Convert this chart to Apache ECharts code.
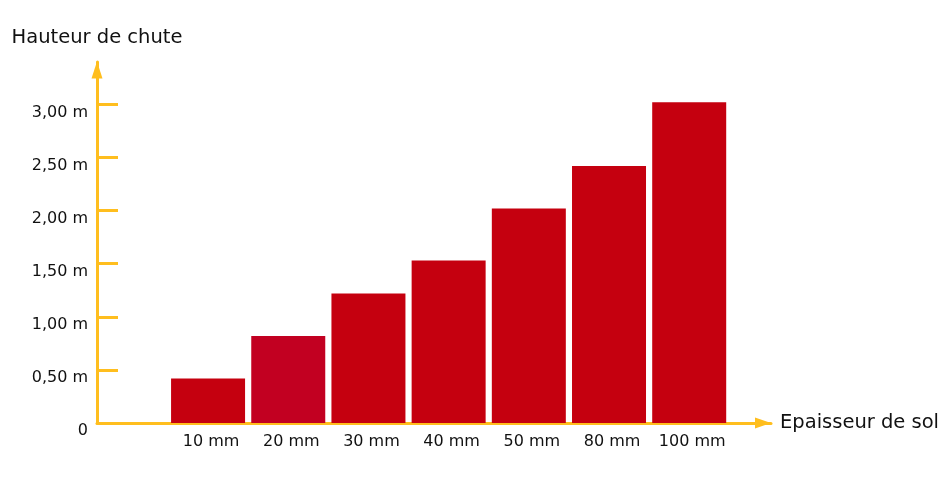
<!DOCTYPE html>
<html>
<head>
<meta charset="utf-8">
<script src="https://cdn.jsdelivr.net/npm/echarts@6/dist/echarts.min.js"></script>
<style>html,body{margin:0;padding:0;background:#fff;}#c{width:945px;height:479px;}</style>
</head>
<body>
<div id="c"></div>
<script>
const categories = ['10 mm', '20 mm', '30 mm', '40 mm', '50 mm', '80 mm', '100 mm'];
const heights = [0.42, 0.82, 1.22, 1.53, 2.02, 2.42, 3.02];
const barColors = ['#C5000F', '#C20021', '#C5000F', '#C5000F', '#C5000F', '#C5000F', '#C5000F'];
const yTicks = [0, 0.5, 1, 1.5, 2, 2.5, 3];
const yTickLabels = ['0', '0,50 m', '1,00 m', '1,50 m', '2,00 m', '2,50 m', '3,00 m'];
const yName = 'Hauteur de chute';
const xName = 'Epaisseur de sol';

const axisColor = '#FFBE1E';
const font = 'DejaVu Sans, Verdana, sans-serif';
const xPositions = categories.map((c, i) => i + 1);

const chart = echarts.init(document.getElementById('c'), null, {renderer: 'canvas'});
chart.setOption({
  backgroundColor: '#ffffff',
  animation: false,
  grid: {left: 97, right: 174, top: 62, bottom: 56, containLabel: false, outerBoundsMode: 'none'},
  xAxis: {
    type: 'value',
    min: -0.385,
    max: 8.02,
    name: xName,
    nameLocation: 'end',
    nameGap: 9,
    nameTextStyle: {fontFamily: font, fontSize: 19.5, color: '#111', verticalAlign: 'middle'},
    axisLine: {show: true, onZero: false, lineStyle: {color: axisColor, width: 3}, symbol: ['none', 'triangle'], symbolSize: [11, 16], symbolOffset: [0, -8]},
    axisTick: {show: false},
    splitLine: {show: false},
    axisLabel: {
      customValues: xPositions,
      formatter: v => categories[Math.round(v) - 1] || '',
      fontFamily: font, fontSize: 16, color: '#111', margin: 11, padding: [0, 0, 0, 6]
    }
  },
  yAxis: {
    type: 'value',
    min: 0,
    max: 3.4,
    name: yName,
    nameLocation: 'end',
    nameGap: 14,
    nameTextStyle: {fontFamily: font, fontSize: 19.5, color: '#111', align: 'center'},
    axisLine: {show: true, onZero: false, lineStyle: {color: axisColor, width: 3}, symbol: ['none', 'triangle'], symbolSize: [11, 17], symbolOffset: [0, -8]},
    axisTick: {show: true, inside: true, length: 21, customValues: yTicks, lineStyle: {color: axisColor, width: 3}},
    splitLine: {show: false},
    axisLabel: {
      customValues: yTicks,
      formatter: v => { const i = yTicks.findIndex(t => Math.abs(t - v) < 1e-6); return i >= 0 ? yTickLabels[i] : ''; },
      fontFamily: font, fontSize: 16, color: '#111', margin: 9, verticalAlign: 'top'
    }
  },
  series: [{
    type: 'bar',
    barWidth: 74,
    data: heights.map((h, i) => ({value: [xPositions[i], h], itemStyle: {color: barColors[i]}})),
    z: 1
  }]
});
</script>
</body>
</html>
